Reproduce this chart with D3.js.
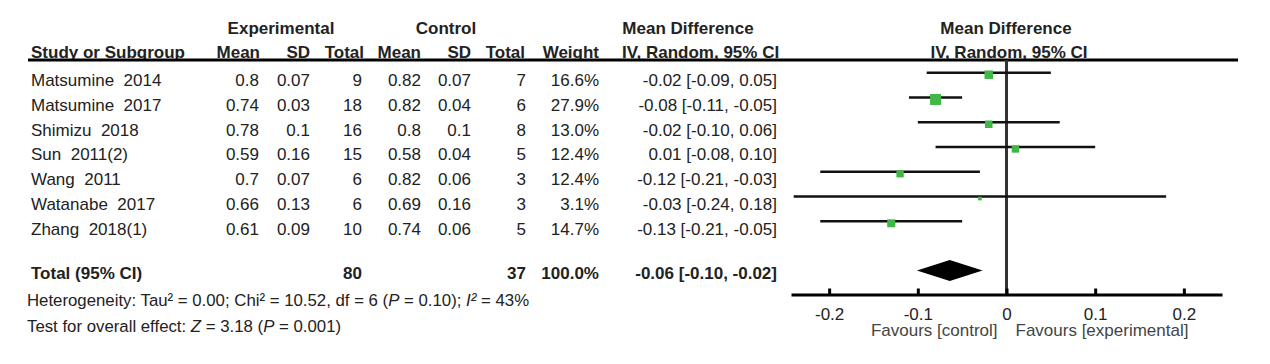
<!DOCTYPE html>
<html>
<head>
<meta charset="utf-8">
<script src="https://cdn.jsdelivr.net/npm/d3@7"></script>
<style>
  body { margin: 0; background: #fff; }
  svg { display: block; font-family: "Liberation Sans", Arial, sans-serif; }
  text { white-space: pre; fill: #222; }
</style>
</head>
<body>
<svg id="chart" width="1270" height="364"></svg>
<script>
var studies = ["Matsumine  2014", "Matsumine  2017", "Shimizu  2018", "Sun  2011(2)", "Wang  2011", "Watanabe  2017", "Zhang  2018(1)"];
var expMean = [0.8, 0.74, 0.78, 0.59, 0.7, 0.66, 0.61];
var expSD = [0.07, 0.03, 0.1, 0.16, 0.07, 0.13, 0.09];
var expN = [9, 18, 16, 15, 6, 6, 10];
var ctrlMean = [0.82, 0.82, 0.8, 0.58, 0.82, 0.69, 0.74];
var ctrlSD = [0.07, 0.04, 0.1, 0.04, 0.06, 0.16, 0.06];
var ctrlN = [7, 6, 8, 5, 3, 3, 5];
var weights = [16.6, 27.9, 13.0, 12.4, 12.4, 3.1, 14.7];
var md = [-0.02, -0.08, -0.02, 0.01, -0.12, -0.03, -0.13];
var ciLow = [-0.09, -0.11, -0.10, -0.08, -0.21, -0.24, -0.21];
var ciHigh = [0.05, -0.05, 0.06, 0.10, -0.03, 0.18, -0.05];

// pooled result (text as printed, diamond as drawn)
var totalExp = 80, totalCtrl = 37;
var pooledText = [-0.06, -0.10, -0.02];
var pooledDiamond = [-0.064, -0.101, -0.027];
var tickValues = [-0.2, -0.1, 0, 0.1, 0.2];

var svg = d3.select("#chart");
var fmt2 = function (v) { return v.toFixed(2); };
var ciText = function (m, l, h) { return fmt2(m) + " [" + fmt2(l) + ", " + fmt2(h) + "]"; };

var x = d3.scaleLinear().domain([-0.243, 0.243]).range([791, 1222]);
var y = d3.scalePoint().domain(d3.range(studies.length)).range([72.7, 221.3]);
var size = d3.scaleSqrt().domain([0, 27.9]).range([0, 11]);

var axisY = 294.5, lineTop = 60;
var fs = 17;

// header
var head = svg.append("g").attr("font-weight", "bold").attr("font-size", fs);
head.append("text").attr("x", 281).attr("y", 34).attr("text-anchor", "middle").text("Experimental");
head.append("text").attr("x", 446).attr("y", 34).attr("text-anchor", "middle").text("Control");
head.append("text").attr("x", 688).attr("y", 34).attr("text-anchor", "middle").text("Mean Difference");
head.append("text").attr("x", 1006).attr("y", 34).attr("text-anchor", "middle").text("Mean Difference");

var cols = [
  { label: "Mean", x: 260 }, { label: "SD", x: 310 }, { label: "Total", x: 364 },
  { label: "Mean", x: 421 }, { label: "SD", x: 471 }, { label: "Total", x: 525 },
  { label: "Weight", x: 599 }
];
var hy = 58;
head.append("text").attr("x", 31).attr("y", hy).text("Study or Subgroup");
head.selectAll("text.col").data(cols).join("text")
  .attr("class", "col")
  .attr("x", function (d) { return d.x; })
  .attr("y", hy)
  .attr("text-anchor", "end")
  .text(function (d) { return d.label; });
head.append("text").attr("x", 622).attr("y", hy).text("IV, Random, 95% CI");
head.append("text").attr("x", 1009).attr("y", hy).attr("text-anchor", "middle").text("IV, Random, 95% CI");

svg.append("line")
  .attr("x1", 28).attr("x2", 1238).attr("y1", lineTop).attr("y2", lineTop)
  .attr("stroke", "#000").attr("stroke-width", 3);

// study rows
var rows = svg.append("g").attr("font-size", fs);
var rowData = studies.map(function (s, i) { return i; });
var dy = 13.3;
var numCols = [
  { x: 259, v: function (i) { return String(expMean[i]); } },
  { x: 310, v: function (i) { return String(expSD[i]); } },
  { x: 362, v: function (i) { return String(expN[i]); } },
  { x: 421, v: function (i) { return String(ctrlMean[i]); } },
  { x: 471, v: function (i) { return String(ctrlSD[i]); } },
  { x: 526, v: function (i) { return String(ctrlN[i]); } },
  { x: 599, v: function (i) { return weights[i].toFixed(1) + "%"; } },
  { x: 777, v: function (i) { return ciText(md[i], ciLow[i], ciHigh[i]); } }
];
rows.selectAll("text.study").data(rowData).join("text")
  .attr("class", "study")
  .attr("x", 31)
  .attr("y", function (i) { return y(i) + dy; })
  .text(function (i) { return studies[i]; });
numCols.forEach(function (c) {
  rows.append("g").selectAll("text").data(rowData).join("text")
    .attr("x", c.x)
    .attr("y", function (i) { return y(i) + dy; })
    .attr("text-anchor", "end")
    .text(c.v);
});

// zero line
svg.append("line")
  .attr("x1", x(0)).attr("x2", x(0)).attr("y1", lineTop).attr("y2", axisY)
  .attr("stroke", "#333").attr("stroke-width", 3);

// CI lines and squares
svg.append("g").selectAll("line").data(rowData).join("line")
  .attr("x1", function (i) { return x(ciLow[i]); })
  .attr("x2", function (i) { return x(ciHigh[i]); })
  .attr("y1", function (i) { return y(i); })
  .attr("y2", function (i) { return y(i); })
  .attr("stroke", "#111").attr("stroke-width", 2.5);
svg.append("g").selectAll("rect").data(rowData).join("rect")
  .attr("x", function (i) { return x(md[i]) - size(weights[i]) / 2; })
  .attr("y", function (i) { return y(i) + 2 - size(weights[i]) / 2; })
  .attr("width", function (i) { return size(weights[i]); })
  .attr("height", function (i) { return size(weights[i]); })
  .attr("fill", "#3fb845");

// total row
var totY = 278.5, diaY = 270.5;
var tot = svg.append("g").attr("font-size", fs).attr("font-weight", "bold");
tot.append("text").attr("x", 31).attr("y", totY).text("Total (95% CI)");
tot.append("text").attr("x", 362).attr("y", totY).attr("text-anchor", "end").text(totalExp);
tot.append("text").attr("x", 526).attr("y", totY).attr("text-anchor", "end").text(totalCtrl);
tot.append("text").attr("x", 599).attr("y", totY).attr("text-anchor", "end").text("100.0%");
tot.append("text").attr("x", 777).attr("y", totY).attr("text-anchor", "end")
  .text(ciText(pooledText[0], pooledText[1], pooledText[2]));

svg.append("path")
  .attr("d", d3.line()([
    [x(pooledDiamond[1]), diaY], [x(pooledDiamond[0]), diaY - 10.5],
    [x(pooledDiamond[2]), diaY], [x(pooledDiamond[0]), diaY + 10.5]
  ]) + "Z")
  .attr("fill", "#000");

// footer
var foot = svg.append("g").attr("font-size", 16.8);
var het = foot.append("text").attr("x", 27).attr("y", 305.5);
het.append("tspan").text("Heterogeneity: Tau\u00b2 = 0.00; Chi\u00b2 = 10.52, df = 6 (");
het.append("tspan").attr("font-style", "italic").text("P");
het.append("tspan").text(" = 0.10); ");
het.append("tspan").attr("font-style", "italic").text("I\u00b2");
het.append("tspan").text(" = 43%");
var zt = foot.append("text").attr("x", 27).attr("y", 331.5);
zt.append("tspan").text("Test for overall effect: ");
zt.append("tspan").attr("font-style", "italic").text("Z");
zt.append("tspan").text(" = 3.18 (");
zt.append("tspan").attr("font-style", "italic").text("P");
zt.append("tspan").text(" = 0.001)");

// axis
var axis = d3.axisBottom(x)
  .tickValues(tickValues)
  .tickSizeInner(-6)
  .tickSizeOuter(0)
  .tickPadding(13)
  .tickFormat(function (d) { return d === 0 ? "0" : String(d); });
var ax = svg.append("g").attr("transform", "translate(0," + axisY + ")").call(axis);
ax.select(".domain").attr("stroke", "#000").attr("stroke-width", 3);
ax.selectAll(".tick line").attr("stroke", "#000").attr("stroke-width", 3);
ax.selectAll(".tick text").attr("font-size", fs).attr("fill", "#111")
  .attr("font-family", "Liberation Sans, Arial, sans-serif");

svg.append("text").attr("x", x(0) - 9).attr("y", 336).attr("text-anchor", "end")
  .attr("font-size", 17).style("fill", "#444").text("Favours [control]");
svg.append("text").attr("x", x(0) + 9).attr("y", 336)
  .attr("font-size", 17).style("fill", "#444").text("Favours [experimental]");
</script>
</body>
</html>
